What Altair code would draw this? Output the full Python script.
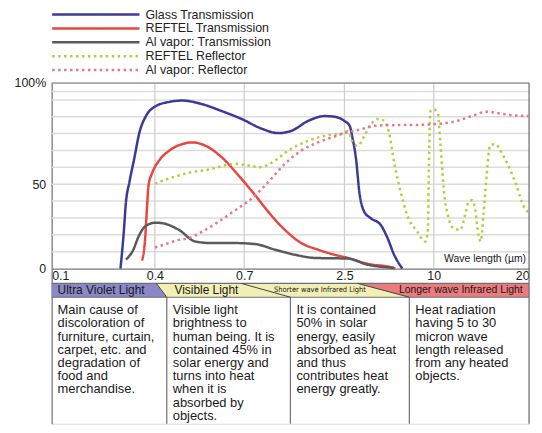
import altair as alt
import pandas as pd

# ---------------- data ----------------
series_names = ["Glass Transmission", "REFTEL Transmission", "Al vapor: Transmission",
                "REFTEL Reflector", "Al vapor: Reflector"]
series_colors = ["#3b3a98", "#e8463e", "#5a5a5a", "#b4cd3e", "#e2788a"]

glass_x = [0.300, 0.309, 0.316, 0.326, 0.340, 0.355, 0.374, 0.403, 0.448, 0.492, 0.558, 0.624, 0.691,
           1.008, 1.311, 1.543, 1.846, 2.143, 2.322, 2.5, 2.94, 3.19, 3.47, 3.75, 4.17, 4.72, 5.55,
           6.11, 6.67, 7.36]
glass_y = [0, 20.0, 39.5, 51.3, 65.2, 80.6, 90.4, 96.3, 98.8, 99.6, 97.5, 93.4, 88.7,
           83.0, 80.3, 81.6, 87.5, 90.4, 90.0, 87.5, 84.6, 76.9, 65.2, 45.4, 33.6, 29.8, 25.8,
           18.2, 8.2, 0]

reftel_t_x = [0.3625, 0.371, 0.377, 0.3815, 0.393, 0.414, 0.448, 0.492, 0.525, 0.570, 0.625, 0.681,
              0.896, 1.133, 1.431, 1.726, 2.024, 2.322, 2.775, 4.44, 6.38, 6.77]
reftel_t_y = [4.7, 16.0, 35.8, 49.3, 57.1, 64.0, 69.9, 73.8, 74.8, 72.8, 65.9, 55.2,
              43.5, 33.6, 22.9, 15.1, 11.2, 8.2, 6.3, 2.8, 0.8, 0]

al_t_x = [0.316, 0.335, 0.355, 0.374, 0.403, 0.437, 0.481, 0.536, 0.592, 0.670, 0.896, 1.252,
          1.609, 1.965, 2.775, 4.44, 6.67]
al_t_y = [5.3, 10.2, 20.0, 25.4, 27.2, 26.4, 22.9, 16.0, 15.1, 15.1, 14.5, 11.2,
          8.2, 6.3, 5.9, 2.3, 0.4]

reftel_r_x = [0.4, 0.437, 0.481, 0.514, 0.581, 0.670, 0.777, 0.985, 1.191, 1.489, 1.846, 2.202, 2.5,
              2.775, 3.19, 3.61, 4.17, 4.72, 5.42, 5.83, 6.25, 6.67, 7.22, 7.77, 8.61, 9.30, 9.50,
              9.58, 9.72, 10.0, 10.42, 10.69, 11.04, 11.56, 12.08, 12.77, 13.29, 13.65, 13.99, 14.33,
              14.69, 14.93, 15.21, 15.55, 15.90, 16.42, 17.29, 17.98, 18.68, 19.38, 20.0]
reftel_r_y = [50.3, 52.8, 55.2, 56.8, 58.7, 62.1, 61.1, 60.1, 62.7, 69.9, 75.7, 79.1, 80.3,
              81.6, 74.8, 72.8, 78.7, 85.6, 88.8, 87.5, 80.6, 63.0, 45.4, 31.7, 21.9, 16.0, 21.9,
              55.2, 93.4, 94.4, 92.4, 74.8, 47.4, 29.8, 23.9, 22.9, 31.7, 39.5, 40.5, 35.6,
              20.0, 16.0, 31.7, 55.2, 72.8, 73.8, 66.9, 59.1, 49.3, 37.6, 32.9]

al_r_x = [0.4, 0.437, 0.481, 0.514, 0.559, 0.614, 0.670, 0.835, 1.133, 1.431, 1.726, 2.024, 2.322,
          2.5, 3.88, 5.0, 6.11, 8.33, 10.69, 12.43, 14.17, 15.55, 16.93, 18.33, 20.0]
al_r_y = [12.5, 14.5, 17.0, 18.0, 21.9, 27.8, 34.6, 41.5, 51.3, 62.1, 69.9, 74.8, 78.3,
          80.3, 82.6, 84.6, 85.0, 85.1, 85.9, 87.5, 90.8, 93.0, 92.0, 90.8, 90.4]

tick_values = [0.1, 0.4, 0.7, 2.5, 10, 20]
y_label_values = [0, 50, 110]
hgrid_values = [10, 20, 30, 40, 50, 60, 70, 80, 90, 100, 105]
vgrid_values = [0.4, 0.7, 2.5, 10]

band_names = ["Ultra Violet Light", "Visible Light", "Shorter wave Infrared Light",
              "Longer wave Infrared Light"]
box_bounds = [0.1, 0.44, 1.53, 7.95, 20]
box_texts = [
    ["Main cause of", "discoloration of", "furniture, curtain,", "carpet, etc. and",
     "degradation of", "food and", "merchandise."],
    ["Visible light", "brightness to", "human being. It is", "contained 45% in",
     "solar energy and", "turns into heat", "when it is", "absorbed by", "objects."],
    ["It is contained", "50% in solar", "energy, easily", "absorbed as heat",
     "and thus", "contributes heat", "energy greatly."],
    ["Heat radiation", "having 5 to 30", "micron wave", "length released",
     "from any heated", "objects."],
]

# ---------------- geometry (layout) ----------------
W = 481
Y_TOP, Y_BOT = 110, -92
H = 343.3
PX_PER_UNIT = H / (Y_TOP - Y_BOT)
ROW1_BOT = -8.8     # bottom of tick-label row
ROW2_BOT = -17.0    # bottom of colour band row
TXT_Y = -27.0
FONT = "Liberation Sans"

xscale = alt.Scale(type="linear", domain=tick_values, range=[0, 104, 194, 295, 385, 481],
                   zero=False, nice=False)
yscale = alt.Scale(domain=[Y_BOT, Y_TOP], zero=False, nice=False)

xaxis = alt.Axis(values=tick_values, format="~g", labelFlush=True, ticks=False, grid=False,
                 domainColor="#777777", domainWidth=1.2, labelFontSize=12.5,
                 labelColor="#222222", labelPadding=1,
                 offset=-(0 - Y_BOT) * PX_PER_UNIT, labelFont=FONT)
yaxis = alt.Axis(values=y_label_values, ticks=False, grid=False, domainColor="#777777",
                 domainWidth=1.2, labelFontSize=12.5, labelColor="#222222",
                 labelPadding=6, labelFont=FONT,
                 labelExpr="datum.value == 110 ? '100%' : datum.label")

# ---------------- tables ----------------
rows = []
for name, xs, ys in zip(series_names,
                        [glass_x, reftel_t_x, al_t_x, reftel_r_x, al_r_x],
                        [glass_y, reftel_t_y, al_t_y, reftel_r_y, al_r_y]):
    for x, y in zip(xs, ys):
        rows.append({"series": name, "wl": x, "v": y})
curves = pd.DataFrame(rows)

hgrid = pd.DataFrame({"y": hgrid_values, "x": 0.1, "x2": 20})
vgrid = pd.DataFrame({"x": vgrid_values, "y": 0, "y2": Y_TOP})
frame = pd.DataFrame([
    {"x": 0.1, "x2": 20, "y": Y_TOP, "y2": Y_TOP},
    {"x": 20, "x2": 20, "y": Y_BOT, "y2": Y_TOP},
    {"x": 0.1, "x2": 20, "y": ROW1_BOT, "y2": ROW1_BOT},
    {"x": 0.1, "x2": 20, "y": ROW2_BOT, "y2": ROW2_BOT},
] + [{"x": b, "x2": b, "y": Y_BOT, "y2": ROW2_BOT} for b in box_bounds[1:4]])

diag = pd.DataFrame([
    {"x": 0.405, "x2": box_bounds[1], "y": ROW1_BOT, "y2": ROW2_BOT},
    {"x": 0.69, "x2": box_bounds[2], "y": ROW1_BOT, "y2": ROW2_BOT},
    {"x": 3.6, "x2": box_bounds[3], "y": ROW1_BOT, "y2": ROW2_BOT},
])

bands = pd.DataFrame([
    {"band": band_names[0], "y": ROW1_BOT, "x": 0.1, "x2": 0.405},
    {"band": band_names[0], "y": ROW2_BOT, "x": 0.1, "x2": box_bounds[1]},
    {"band": band_names[1], "y": ROW1_BOT, "x": 0.405, "x2": 3.6},
    {"band": band_names[1], "y": ROW2_BOT, "x": box_bounds[1], "x2": box_bounds[3]},
    {"band": band_names[3], "y": ROW1_BOT, "x": 3.6, "x2": 20},
    {"band": band_names[3], "y": ROW2_BOT, "x": box_bounds[3], "x2": 20},
])
band_mid = (ROW1_BOT + ROW2_BOT) / 2

band_lbl_main = pd.DataFrame([{"t": band_names[1], "x": 0.573, "y": band_mid}])
band_lbl_uv = pd.DataFrame([{"t": band_names[0], "x": 0.1, "y": band_mid}])
band_lbl_short = pd.DataFrame([{"t": band_names[2], "x": 2.06, "y": band_mid}])
band_lbl_long = pd.DataFrame([{"t": band_names[3], "x": 12.84, "y": band_mid}])

boxes = pd.DataFrame({"x": box_bounds[:4], "y": TXT_Y, "t": ["\n".join(t) for t in box_texts]})
wl_label = pd.DataFrame([{"t": "Wave length (\u00b5m)", "x": 20, "y": 5.9}])

# ---------------- layers ----------------
X = lambda f: alt.X(f"{f}:Q", scale=xscale, axis=xaxis, title=None)
Y = lambda f: alt.Y(f"{f}:Q", scale=yscale, axis=yaxis, title=None)

band_layer = alt.Chart(bands).mark_area(orient="horizontal", opacity=1).encode(
    y=Y("y"), x=X("x"), x2="x2",
    fill=alt.Fill("band:N", scale=alt.Scale(domain=[band_names[0], band_names[1], band_names[3]],
                                            range=["#8c88c8", "#f1efb6", "#ea7b7f"]), legend=None),
)

hgrid_layer = alt.Chart(hgrid).mark_rule(color="#dcdcdc", strokeWidth=1.5).encode(
    x=X("x"), x2="x2", y=Y("y"))
vgrid_layer = alt.Chart(vgrid).mark_rule(color="#cfcfcf", strokeWidth=1.3).encode(
    x=X("x"), y=Y("y"), y2="y2")
frame_layer = alt.Chart(frame).mark_rule(color="#707070", strokeWidth=1.2).encode(
    x=X("x"), x2="x2", y=Y("y"), y2="y2")
diag_layer = alt.Chart(diag).mark_rule(color="#444444", strokeWidth=1).encode(
    x=X("x"), x2="x2", y=Y("y"), y2="y2")

# legend: short symbol box, long custom stroke path drawn beyond it
SYM = 11
dash_range = [[1, 0], [1, 0], [1, 0], [2.5, 3.5], [2.5, 3.5]]
legend = alt.Legend(title=None, orient="none", legendX=37.5, legendY=-76,
                    symbolType="M-8,0H8", symbolSize=SYM * SYM, symbolStrokeWidth=2.5,
                    symbolFillColor="transparent",
                    labelFontSize=12.5, labelColor="#222222", labelFont=FONT,
                    rowPadding=-1, padding=0, labelOffset=43, direction="vertical")
curve_layer = alt.Chart(curves).mark_line(interpolate="monotone", strokeWidth=2.5).encode(
    x=X("wl"), y=Y("v"),
    color=alt.Color("series:N", scale=alt.Scale(domain=series_names, range=series_colors),
                    legend=legend, sort=series_names),
    strokeDash=alt.StrokeDash("series:N", scale=alt.Scale(domain=series_names, range=dash_range),
                              legend=legend, sort=series_names),
)

txt = dict(font=FONT, color="#1a1a1a")
lbl_main = alt.Chart(band_lbl_main).mark_text(fontSize=12, baseline="middle", align="center", **txt).encode(
    x=X("x"), y=Y("y"), text="t:N")
lbl_uv = alt.Chart(band_lbl_uv).mark_text(fontSize=12, baseline="middle", align="left", dx=6, **txt).encode(
    x=X("x"), y=Y("y"), text="t:N")
lbl_short = alt.Chart(band_lbl_short).mark_text(
    fontSize=7.5, baseline="middle", align="center",
    font="Liberation Sans Narrow, DejaVu Sans Condensed, Liberation Sans",
    color="#1a1a1a").encode(x=X("x"), y=Y("y"), text="t:N")
lbl_long = alt.Chart(band_lbl_long).mark_text(fontSize=10.5, baseline="middle", align="center", **txt).encode(
    x=X("x"), y=Y("y"), text="t:N")
box_layer = alt.Chart(boxes).mark_text(fontSize=13, baseline="alphabetic", align="left", dx=6,
                                       lineBreak="\n", lineHeight=13.33, **txt).encode(
    x=X("x"), y=Y("y"), text="t:N")
wl_layer = alt.Chart(wl_label).mark_text(fontSize=10.5, baseline="middle", align="right", dx=-3, **txt).encode(
    x=X("x"), y=Y("y"), text="t:N")

chart = alt.layer(
    band_layer, hgrid_layer, vgrid_layer, frame_layer, diag_layer,
    curve_layer, lbl_main, lbl_uv, lbl_short, lbl_long, box_layer, wl_layer,
).properties(
    width=W, height=H,
    padding={"left": 44, "top": 74, "right": 5, "bottom": 0},
    autosize=alt.AutoSizeParams(type="none"),
).configure_view(stroke=None).configure(font=FONT)

chart.save("out.html", embed_options={"renderer": "svg", "actions": False})
